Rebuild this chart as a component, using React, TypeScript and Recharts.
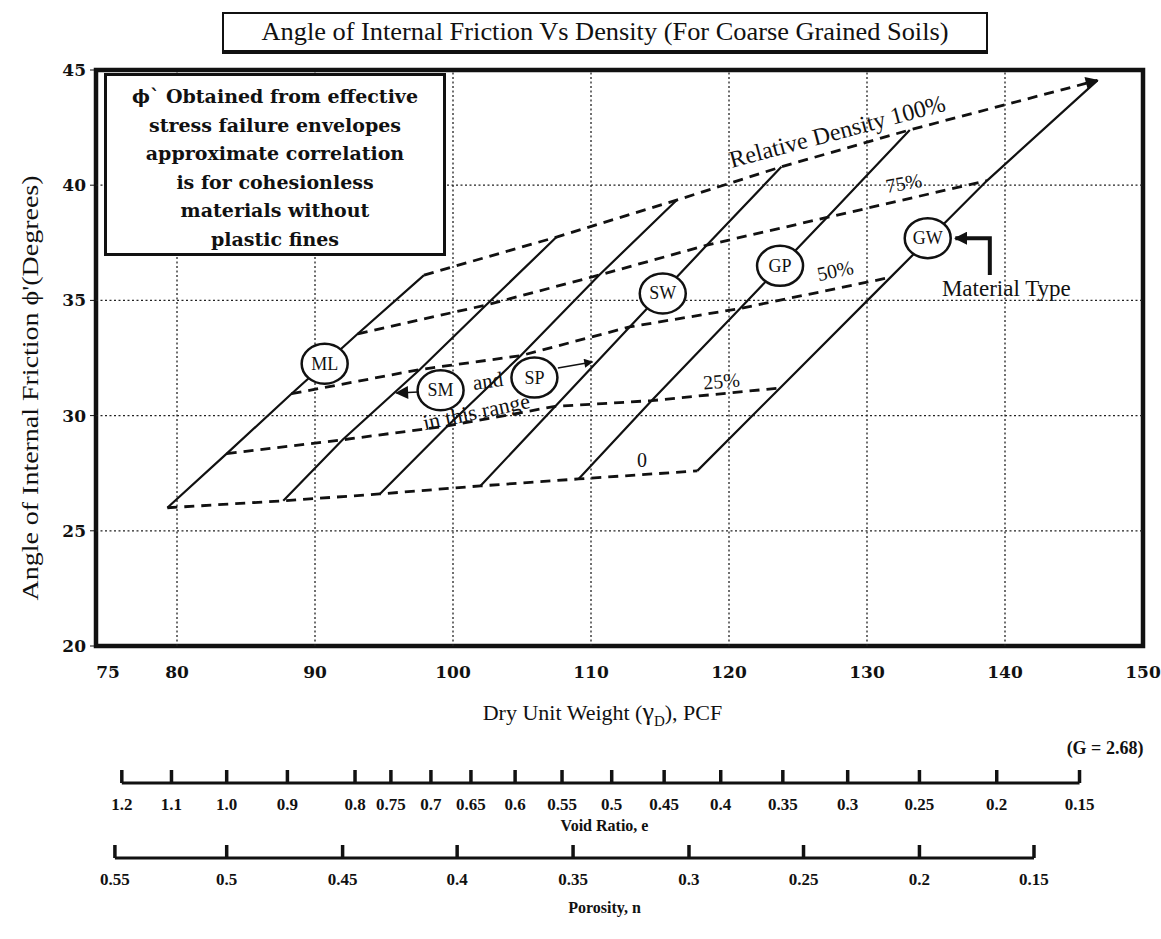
import React from "react";
import {
  ComposedChart,
  LineChart,
  Line,
  Scatter,
  XAxis,
  YAxis,
  ReferenceLine,
  ReferenceDot,
  ReferenceArea,
} from "recharts";

const SERIF = "'Liberation Serif', 'Times New Roman', serif";
const WIDE_SERIF = "'DejaVu Serif', serif";

// axes
const X_DOMAIN: [number, number] = [74.13, 150];
const Y_DOMAIN: [number, number] = [20, 45];
const xTicks = [75, 80, 90, 100, 110, 120, 130, 140, 150];
const yTicks = [20, 25, 30, 35, 40, 45];
const gridX = [80, 90, 100, 110, 120, 130, 140];
const gridY = [25, 30, 35, 40];

// relative density levels along each material line (bottom -> top)
const densityLabels = ["0", "25%", "50%", "75%", "100%"];

// dry unit weight (pcf) and friction angle (deg) at 0 / 25 / 50 / 75 / 100 %
const gammaML = [79.3, 83.6, 88.3, 93.1, 97.9];
const phiML = [26.0, 28.35, 30.95, 33.55, 36.1];
const gammaSMlow = [87.7, 92.0, 97.6, 102.4, 107.5];
const phiSMlow = [26.3, 28.95, 32.0, 34.8, 37.75];
const gammaSMmid = [94.7, 99.6, 104.9, 110.6, 116.2];
const phiSMmid = [26.6, 29.55, 32.6, 36.1, 39.35];
const gammaSW = [102.0, 107.4, 112.8, 118.4, 123.8];
const phiSW = [26.95, 30.4, 33.85, 37.4, 40.8];
const gammaGP = [109.1, 114.4, 120.8, 127.1, 133.1];
const phiGP = [27.25, 30.65, 34.65, 38.6, 42.4];
const gammaGW = [117.7, 123.7, 131.7, 138.7, 146.7];
const phiGW = [27.6, 31.2, 36.0, 40.2, 44.55];

// circled material tags
const tagNames = ["ML", "SM", "SP", "SW", "GP", "GW"];
const tagGamma = [90.7, 99.1, 105.9, 115.2, 123.7, 134.4];
const tagPhi = [32.25, 31.1, 31.65, 35.3, 36.5, 37.7];

// pointer arrows
const smArrowGamma = [97.5, 95.9];
const smArrowPhi = [31.02, 30.98];
const spArrowGamma = [107.6, 110.1];
const spArrowPhi = [32.07, 32.33];
const typeArrowGamma = [138.9, 138.9, 136.4];
const typeArrowPhi = [36.1, 37.7, 37.7];

// free text on the plot
const noteText = ["Relative Density 100%", "75%", "50%", "25%", "0", "and", "in this range", "Material Type"];
const noteGamma = [128.0, 132.75, 127.8, 119.5, 113.7, 102.6, 101.8, 140.1];
const notePhi = [42.0, 39.8, 36.0, 31.2, 27.75, 31.2, 29.85, 35.2];
const noteStyle = [
  { rotate: -15, size: 24 },
  { rotate: -10, size: 20 },
  { rotate: -12, size: 20 },
  { rotate: -5, size: 20 },
  { rotate: 0, size: 20 },
  { rotate: -8, size: 21 },
  { rotate: -12, size: 22 },
  { rotate: 0, size: 23 },
];

const boxLines = [
  "ϕ` Obtained from effective",
  "stress failure envelopes",
  "approximate correlation",
  "is for cohesionless",
  "materials without",
  "plastic fines",
];

// secondary scales, tick positions read against dry unit weight (pcf)
const voidLabels = ["1.2", "1.1", "1.0", "0.9", "0.8", "0.75", "0.7", "0.65", "0.6", "0.55", "0.5", "0.45", "0.4", "0.35", "0.3", "0.25", "0.2", "0.15"];
const voidAt = [76.0, 79.6, 83.6, 88.0, 92.9, 95.5, 98.4, 101.3, 104.5, 107.9, 111.5, 115.3, 119.4, 123.9, 128.6, 133.8, 139.4, 145.4];
const porosityLabels = ["0.55", "0.5", "0.45", "0.4", "0.35", "0.3", "0.25", "0.2", "0.15"];
const porosityAt = [75.5, 83.6, 92.0, 100.3, 108.7, 117.1, 125.4, 133.8, 142.1];

const pts = (xs: number[], ys: number[]) => xs.map((x, i) => ({ x, y: ys[i] }));

function ScaleBar({ at, labels, title, top, titleDy }: { at: number[]; labels: string[]; title: string; top: number; titleDy: number }) {
  const base = [
    { x: at[0], y: 0 },
    { x: at[at.length - 1], y: 0 },
  ];
  const renderTick = (p: any) => {
    const idx = at.indexOf(p.payload.value);
    return (
      <g>
        <line x1={p.x} x2={p.x} y1={p.y} y2={p.y - 13} stroke="#111" strokeWidth={3.5} />
        <text x={p.x} y={p.y + 27} textAnchor="middle" fontFamily={SERIF} fontSize={17} fontWeight="bold" fill="#111">
          {labels[idx]}
        </text>
      </g>
    );
  };
  return (
    <div style={{ position: "absolute", left: 0, top }}>
      <LineChart width={1161} height={110} data={base} margin={{ top: 10, right: 18, bottom: 0, left: 96 }}>
        <XAxis
          type="number"
          dataKey="x"
          domain={X_DOMAIN}
          ticks={at}
          interval={0}
          tick={renderTick}
          tickLine={false}
          axisLine={false}
          tickSize={0}
          tickMargin={0}
          height={70}
          label={(props: any) => {
            const vb = props.viewBox;
            return (
              <text x={vb.x + vb.width / 2 - 15} y={vb.y + titleDy} textAnchor="middle" fontFamily={SERIF} fontSize={16} fontWeight="bold" fill="#111">
                {title}
              </text>
            );
          }}
        />
        <YAxis hide domain={[0, 1]} />
        <Line dataKey="y" stroke="#111" strokeWidth={3} dot={false} isAnimationActive={false} />
      </LineChart>
    </div>
  );
}

export default function App() {
  const materialLines = [
    { gamma: gammaML, phi: phiML },
    { gamma: gammaSMlow, phi: phiSMlow },
    { gamma: gammaSMmid, phi: phiSMmid },
    { gamma: gammaSW, phi: phiSW },
    { gamma: gammaGP, phi: phiGP },
    { gamma: gammaGW, phi: phiGW },
  ];
  const densityCurves = densityLabels.map((_, k) => materialLines.map((m) => ({ x: m.gamma[k], y: m.phi[k] })));
  const tags = tagNames.map((t, i) => ({ x: tagGamma[i], y: tagPhi[i], tag: t }));

  const xLabel = (props: any) => {
    const vb = props.viewBox;
    const cx = vb.x + vb.width / 2 - 17;
    return (
      <g fontFamily={SERIF} fill="#111">
        <text x={cx} y={vb.y + 74} textAnchor="middle" fontSize={22}>
          Dry Unit Weight (<tspan fontSize={26}>γ</tspan>
          <tspan fontSize={15} dy={6}>D</tspan>
          <tspan dy={-6}>), PCF</tspan>
        </text>
        <text x={vb.x + vb.width - 38} y={vb.y + 108} textAnchor="middle" fontSize={18} fontWeight="bold">
          (G = 2.68)
        </text>
      </g>
    );
  };

  const yLabel = (props: any) => {
    const vb = props.viewBox;
    const x = vb.x - 26;
    const y = vb.y + vb.height / 2 + 30;
    return (
      <text
        x={x}
        y={y}
        transform={`rotate(-90 ${x} ${y})`}
        textAnchor="middle"
        dominantBaseline="central"
        fontFamily={SERIF}
        fontSize={23}
        textLength={425}
        lengthAdjust="spacingAndGlyphs"
        fill="#111"
      >
        Angle of Internal Friction ϕ'(Degrees)
      </text>
    );
  };

  return (
    <div style={{ position: "absolute", left: 0, top: 0, width: 1161, height: 939, background: "#fff" }}>
      <div
        style={{
          position: "absolute",
          left: 222,
          top: 12,
          width: 766,
          height: 42,
          boxSizing: "border-box",
          border: "2px solid #111",
          borderBottomWidth: 4,
          display: "flex",
          alignItems: "center",
          justifyContent: "center",
        }}
      >
        <svg width={740} height={36}>
          <text x={370} y={26} textAnchor="middle" fontFamily={SERIF} fontSize={25} textLength={687} lengthAdjust="spacingAndGlyphs" fill="#111">
            Angle of Internal Friction Vs Density (For Coarse Grained Soils)
          </text>
        </svg>
      </div>

      <div style={{ position: "absolute", left: 0, top: 0 }}>
        <ComposedChart width={1161} height={770} margin={{ top: 70, right: 18, bottom: 94, left: 56 }}>
          <defs>
            <marker id="tipFill" viewBox="0 0 10 10" refX="9" refY="5" markerWidth="15" markerHeight="13" markerUnits="userSpaceOnUse" orient="auto">
              <path d="M0,0 L10,5 L0,10 z" fill="#111" />
            </marker>
            <marker id="tipSmall" viewBox="0 0 10 10" refX="9" refY="5" markerWidth="11" markerHeight="9" markerUnits="userSpaceOnUse" orient="auto">
              <path d="M0,0 L10,5 L0,10 z" fill="#111" />
            </marker>
          </defs>
          <XAxis
            type="number"
            dataKey="x"
            domain={X_DOMAIN}
            allowDataOverflow
            ticks={xTicks}
            interval={0}
            axisLine={false}
            tickLine={false}
            tickMargin={14}
            height={30}
            tick={{ fontFamily: WIDE_SERIF, fontSize: 17, fontWeight: "bold", fill: "#111" }}
            label={xLabel}
          />
          <YAxis
            type="number"
            dataKey="y"
            domain={Y_DOMAIN}
            allowDataOverflow
            ticks={yTicks}
            interval={0}
            width={40}
            axisLine={false}
            tickLine={{ stroke: "#111", strokeWidth: 1 }}
            tickSize={6}
            tickMargin={4}
            tick={{ fontFamily: WIDE_SERIF, fontSize: 17, fontWeight: "bold", fill: "#111" }}
            label={yLabel}
          />

          {gridX.map((v) => (
            <ReferenceLine key={`gx${v}`} x={v} stroke="#222" strokeWidth={1.3} strokeDasharray="2 2.5" />
          ))}
          {gridY.map((v) => (
            <ReferenceLine key={`gy${v}`} y={v} stroke="#222" strokeWidth={1.3} strokeDasharray="2 2.5" />
          ))}
          <ReferenceArea x1={X_DOMAIN[0]} x2={X_DOMAIN[1]} y1={Y_DOMAIN[0]} y2={Y_DOMAIN[1]} fill="none" stroke="#111" strokeWidth={4.5} ifOverflow="visible" />

          {materialLines.map((m, i) => (
            <Line key={`m${i}`} data={pts(m.gamma, m.phi)} dataKey="y" type="linear" stroke="#111" strokeWidth={2.2} dot={false} isAnimationActive={false} />
          ))}
          {densityCurves.map((c, k) => (
            <Line
              key={`d${k}`}
              data={c}
              dataKey="y"
              type="linear"
              stroke="#111"
              strokeWidth={2.8}
              strokeDasharray="10 7"
              dot={false}
              isAnimationActive={false}
              markerEnd={k === densityCurves.length - 1 ? "url(#tipFill)" : undefined}
            />
          ))}

          <Line data={pts(smArrowGamma, smArrowPhi)} dataKey="y" stroke="#111" strokeWidth={1.5} dot={false} markerEnd="url(#tipFill)" isAnimationActive={false} />
          <Line data={pts(spArrowGamma, spArrowPhi)} dataKey="y" stroke="#111" strokeWidth={1.5} dot={false} markerEnd="url(#tipSmall)" isAnimationActive={false} />
          <Line data={pts(typeArrowGamma, typeArrowPhi)} dataKey="y" stroke="#111" strokeWidth={4} dot={false} markerEnd="url(#tipFill)" isAnimationActive={false} />

          <Scatter
            data={tags}
            isAnimationActive={false}
            shape={(p: any) => (
              <g>
                <ellipse cx={p.cx} cy={p.cy} rx={23} ry={20} fill="#fff" stroke="#111" strokeWidth={2.5} />
                <text x={p.cx} y={p.cy + 6} textAnchor="middle" fontFamily={SERIF} fontSize={18} fill="#111">
                  {p.payload.tag}
                </text>
              </g>
            )}
          />

          {noteText.map((t, i) => (
            <ReferenceDot
              key={`n${i}`}
              x={noteGamma[i]}
              y={notePhi[i]}
              r={0}
              shape={(p: any) => (
                <text
                  x={p.cx}
                  y={p.cy}
                  textAnchor="middle"
                  fontFamily={SERIF}
                  fontSize={noteStyle[i].size}
                  fill="#111"
                  transform={`rotate(${noteStyle[i].rotate} ${p.cx} ${p.cy})`}
                >
                  {t}
                </text>
              )}
            />
          ))}
        </ComposedChart>
      </div>

      <div
        style={{
          position: "absolute",
          left: 104,
          top: 73,
          width: 342,
          height: 183,
          boxSizing: "border-box",
          border: "3px solid #111",
          background: "#fff",
          textAlign: "center",
          paddingTop: 6,
          fontFamily: WIDE_SERIF,
          fontSize: 19,
          fontWeight: "bold",
          lineHeight: "28.5px",
          color: "#111",
        }}
      >
        {boxLines.map((l) => (
          <div key={l}>{l}</div>
        ))}
      </div>

      <ScaleBar at={voidAt} labels={voidLabels} title="Void Ratio, e" top={743} titleDy={48} />
      <ScaleBar at={porosityAt} labels={porosityLabels} title="Porosity, n" top={818} titleDy={55} />
    </div>
  );
}
